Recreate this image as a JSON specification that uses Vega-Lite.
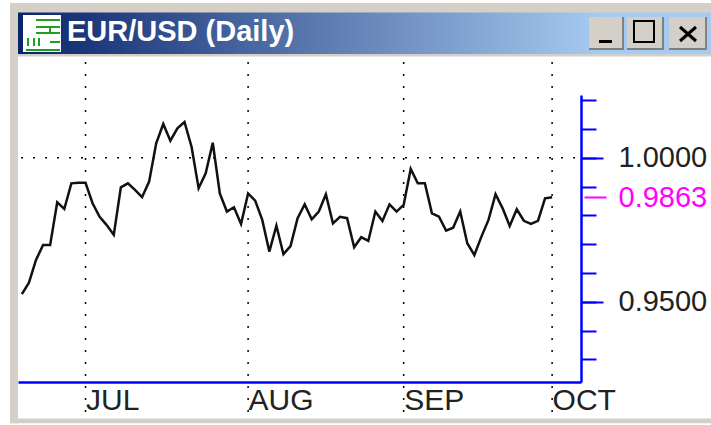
{
"$schema":"https://vega.github.io/schema/vega-lite/v6.json",
"width":563,"height":287,"autosize":"none",
"padding":{"left":18,"top":95,"right":130,"bottom":43},
"background":"#ffffff",
"view":{"stroke":null},
"title":{"text":"EUR/USD (Daily)","anchor":"start","frame":"group","dx":49,"offset":-44,"color":"#ffffff","font":"Liberation Sans","fontWeight":"bold","fontSize":29},
"data":{"values":[{}]},
"resolve":{"axis":{"x":"independent","y":"independent"}},
"layer":[
{"mark":{"type":"rect","color":"#d4d0c8"},"encoding":{"x":{"datum":-10.68,"type":"quantitative","axis":null,"scale":{"domain":[-9.547,70.085],"nice":false,"zero":false}},"x2":{"datum":-9.547},"y":{"datum":1.05372,"type":"quantitative","axis":null,"scale":{"domain":[0.92212,1.02177],"nice":false,"zero":false}},"y2":{"datum":0.90781}}},
{"mark":{"type":"rect","color":"#d4d0c8"},"encoding":{"x":{"datum":-10.68,"type":"quantitative","axis":null},"x2":{"datum":88.47},"y":{"datum":1.05372,"type":"quantitative","axis":null},"y2":{"datum":1.03514}}},
{"mark":{"type":"rect","color":"#d4d0c8"},"encoding":{"x":{"datum":-10.68,"type":"quantitative","axis":null},"x2":{"datum":88.47},"y":{"datum":0.90944,"type":"quantitative","axis":null},"y2":{"datum":0.90781}}},
{"mark":{"type":"rect","color":{"gradient":"linear","x1":0,"y1":0,"x2":1,"y2":0,"stops":[{"offset":0,"color":"#0a246a"},{"offset":0.84,"color":"#a6caf0"},{"offset":1,"color":"#a6caf0"}]}},"encoding":{"x":{"datum":-9.547,"type":"quantitative","axis":null},"x2":{"datum":88.47},"y":{"datum":1.05042,"type":"quantitative","axis":null},"y2":{"datum":1.03601}}},
{"mark":{"type":"rect","color":"#ffffff"},"encoding":{"x":{"datum":-8.84,"type":"quantitative","axis":null},"x2":{"datum":-3.47},"y":{"datum":1.04955,"type":"quantitative","axis":null},"y2":{"datum":1.0367}}},
{"mark":{"type":"rule","color":"#1f9e1f","strokeWidth":2},"encoding":{"x":{"datum":-7.0,"type":"quantitative","axis":null},"x2":{"datum":-3.61},"y":{"datum":1.04781,"type":"quantitative","axis":null}}},
{"mark":{"type":"rule","color":"#1f9e1f","strokeWidth":2},"encoding":{"x":{"datum":-7.0,"type":"quantitative","axis":null},"x2":{"datum":-3.61},"y":{"datum":1.04538,"type":"quantitative","axis":null}}},
{"mark":{"type":"rule","color":"#1f9e1f","strokeWidth":2},"encoding":{"x":{"datum":-7.0,"type":"quantitative","axis":null},"x2":{"datum":-3.61},"y":{"datum":1.0433,"type":"quantitative","axis":null}}},
{"mark":{"type":"rule","color":"#1f9e1f","strokeWidth":2},"encoding":{"x":{"datum":-5.02,"type":"quantitative","axis":null},"x2":{"datum":-3.61},"y":{"datum":1.04017,"type":"quantitative","axis":null}}},
{"mark":{"type":"rule","color":"#1f9e1f","strokeWidth":2},"encoding":{"x":{"datum":-8.42,"type":"quantitative","axis":null},"x2":{"datum":-3.61},"y":{"datum":1.0374,"type":"quantitative","axis":null}}},
{"mark":{"type":"rule","color":"#1f9e1f","strokeWidth":2},"encoding":{"x":{"datum":-5.02,"type":"quantitative","axis":null},"y":{"datum":1.04538,"type":"quantitative","axis":null},"y2":{"datum":1.0433}}},
{"mark":{"type":"rule","color":"#1f9e1f","strokeWidth":2},"encoding":{"x":{"datum":-8.13,"type":"quantitative","axis":null},"y":{"datum":1.04156,"type":"quantitative","axis":null},"y2":{"datum":1.03878}}},
{"mark":{"type":"rule","color":"#1f9e1f","strokeWidth":2},"encoding":{"x":{"datum":-7.28,"type":"quantitative","axis":null},"y":{"datum":1.04156,"type":"quantitative","axis":null},"y2":{"datum":1.03878}}},
{"mark":{"type":"rule","color":"#1f9e1f","strokeWidth":2},"encoding":{"x":{"datum":-6.58,"type":"quantitative","axis":null},"y":{"datum":1.04156,"type":"quantitative","axis":null},"y2":{"datum":1.03878}}},
{"mark":{"type":"rect","color":"#808080"},"encoding":{"x":{"datum":71.22,"type":"quantitative","axis":null},"x2":{"datum":76.17},"y":{"datum":1.04885,"type":"quantitative","axis":null},"y2":{"datum":1.0374}}},
{"mark":{"type":"rect","color":"#808080"},"encoding":{"x":{"datum":76.59,"type":"quantitative","axis":null},"x2":{"datum":81.82},"y":{"datum":1.04885,"type":"quantitative","axis":null},"y2":{"datum":1.0374}}},
{"mark":{"type":"rect","color":"#808080"},"encoding":{"x":{"datum":82.53,"type":"quantitative","axis":null},"x2":{"datum":87.91},"y":{"datum":1.04885,"type":"quantitative","axis":null},"y2":{"datum":1.0374}}},
{"mark":{"type":"rect","color":"#d4d0c8"},"encoding":{"x":{"datum":71.22,"type":"quantitative","axis":null},"x2":{"datum":75.89},"y":{"datum":1.04885,"type":"quantitative","axis":null},"y2":{"datum":1.0381}}},
{"mark":{"type":"rect","color":"#d4d0c8"},"encoding":{"x":{"datum":76.59,"type":"quantitative","axis":null},"x2":{"datum":81.54},"y":{"datum":1.04885,"type":"quantitative","axis":null},"y2":{"datum":1.0381}}},
{"mark":{"type":"rect","color":"#d4d0c8"},"encoding":{"x":{"datum":82.53,"type":"quantitative","axis":null},"x2":{"datum":87.63},"y":{"datum":1.04885,"type":"quantitative","axis":null},"y2":{"datum":1.0381}}},
{"mark":{"type":"rect","color":"#000000"},"encoding":{"x":{"datum":72.63,"type":"quantitative","axis":null},"x2":{"datum":74.47},"y":{"datum":1.04087,"type":"quantitative","axis":null},"y2":{"datum":1.03983}}},
{"mark":{"type":"rect","fillOpacity":0,"stroke":"#000000","strokeWidth":2},"encoding":{"x":{"datum":77.58,"type":"quantitative","axis":null},"x2":{"datum":80.41},"y":{"datum":1.04747,"type":"quantitative","axis":null},"y2":{"datum":1.04017}}},
{"mark":{"type":"rule","color":"#000000","strokeWidth":3},"encoding":{"x":{"datum":84.09,"type":"quantitative","axis":null},"x2":{"datum":86.35},"y":{"datum":1.04538,"type":"quantitative","axis":null},"y2":{"datum":1.04052}}},
{"mark":{"type":"rule","color":"#000000","strokeWidth":3},"encoding":{"x":{"datum":84.09,"type":"quantitative","axis":null},"x2":{"datum":86.35},"y":{"datum":1.04052,"type":"quantitative","axis":null},"y2":{"datum":1.04538}}},
{"mark":{"type":"rule","color":"#000000","strokeWidth":1.5,"strokeDash":[2,10]},"encoding":{"x":{"datum":-9.12,"type":"quantitative","axis":null},"x2":{"datum":70.085},"y":{"datum":1,"type":"quantitative","axis":null}}},
{"data":{"values":[{"day":0,"month":"JUL"},{"day":23,"month":"AUG"},{"day":45,"month":"SEP"},{"day":66,"month":"OCT"}]},
 "mark":{"type":"rule","color":"#000000","strokeWidth":1.5,"strokeDash":[2,10]},
 "encoding":{"x":{"field":"day","type":"quantitative","axis":null},
 "y":{"datum":1.03323,"type":"quantitative","axis":{"orient":"right","zindex":1,"title":null,"values":[0.95,1],"tickSize":22,"tickColor":"#0000ff","tickWidth":2,"domain":false,"grid":false,"labelFont":"Liberation Sans","labelFontSize":29,"labelColor":"#222222","labelPadding":15,"format":".4f"}},"y2":{"datum":0.90962}}},
{"data":{"values":[{"day":66,"rate":0.9863}]},
 "mark":{"type":"point","opacity":0},
 "encoding":{"x":{"field":"day","type":"quantitative","axis":null},
 "y":{"field":"rate","type":"quantitative","axis":{"orient":"right","zindex":1,"offset":3,"title":null,"values":[0.9863],"tickSize":22,"tickColor":"#ff00ff","tickWidth":2,"domain":false,"grid":false,"labelFont":"Liberation Sans","labelFontSize":29,"labelColor":"#ff00ff","labelPadding":12,"format":".4f"}}}},
{"data":{"name":"series","values":[
{"day":-9,"rate":0.9526},{"day":-8,"rate":0.9566},{"day":-7,"rate":0.9645},{"day":-6,"rate":0.9697},{"day":-5,"rate":0.9697},{"day":-4,"rate":0.9845},{"day":-3,"rate":0.9822},{"day":-2,"rate":0.9911},{"day":-1,"rate":0.9913},{"day":0,"rate":0.9913},
{"day":1,"rate":0.9842},{"day":2,"rate":0.9795},{"day":3,"rate":0.9766},{"day":4,"rate":0.9732},{"day":5,"rate":0.9897},{"day":6,"rate":0.9911},{"day":7,"rate":0.9888},{"day":8,"rate":0.9863},{"day":9,"rate":0.9917},{"day":10,"rate":1.005},
{"day":11,"rate":1.0117},{"day":12,"rate":1.0059},{"day":13,"rate":1.0102},{"day":14,"rate":1.0124},{"day":15,"rate":1.0038},{"day":16,"rate":0.9894},{"day":17,"rate":0.9946},{"day":18,"rate":1.0052},{"day":19,"rate":0.9876},{"day":20,"rate":0.9813},
{"day":21,"rate":0.9828},{"day":22,"rate":0.977},{"day":23,"rate":0.9876},{"day":24,"rate":0.9851},{"day":25,"rate":0.9784},{"day":26,"rate":0.9674},{"day":27,"rate":0.9764},{"day":28,"rate":0.9665},{"day":29,"rate":0.9693},{"day":30,"rate":0.979},
{"day":31,"rate":0.9838},{"day":32,"rate":0.9786},{"day":33,"rate":0.9813},{"day":34,"rate":0.9873},{"day":35,"rate":0.9772},{"day":36,"rate":0.9795},{"day":37,"rate":0.979},{"day":38,"rate":0.9689},{"day":39,"rate":0.9724},{"day":40,"rate":0.9711},
{"day":41,"rate":0.9813},{"day":42,"rate":0.978},{"day":43,"rate":0.9838},{"day":44,"rate":0.9813},{"day":45,"rate":0.9836},{"day":46,"rate":0.9961},{"day":47,"rate":0.9911},{"day":48,"rate":0.9911},{"day":49,"rate":0.9807},{"day":50,"rate":0.9795},
{"day":51,"rate":0.9747},{"day":52,"rate":0.9757},{"day":53,"rate":0.9813},{"day":54,"rate":0.9703},{"day":55,"rate":0.9662},{"day":56,"rate":0.9726},{"day":57,"rate":0.9784},{"day":58,"rate":0.9873},{"day":59,"rate":0.9824},{"day":60,"rate":0.9763},
{"day":61,"rate":0.9821},{"day":62,"rate":0.9781},{"day":63,"rate":0.977},{"day":64,"rate":0.9781},{"day":65,"rate":0.9859},{"day":66,"rate":0.9863}]},
 "mark":{"type":"line","color":"#111111","strokeWidth":2.5},
 "encoding":{
 "x":{"field":"day","type":"quantitative","axis":{"orient":"bottom","zindex":1,"title":null,"values":[0,23,45,66],"labelExpr":"datum.value==0?'JUL':datum.value==23?'AUG':datum.value==45?'SEP':'OCT'","tickSize":0,"domain":true,"domainColor":"#0000ff","domainWidth":2.5,"grid":false,"labelFont":"Liberation Sans","labelFontSize":30,"labelColor":"#222222","labelAlign":"left","labelBaseline":"top","labelPadding":3,"labelBound":false,"labelFlush":false,"labelOverlap":false}},
 "y":{"field":"rate","type":"quantitative","axis":{"orient":"right","zindex":1,"title":null,"values":[0.93,0.94,0.95,0.96,0.97,0.98,0.99,1,1.01,1.02],"tickSize":15,"tickColor":"#0000ff","tickWidth":2,"domain":true,"domainColor":"#0000ff","domainWidth":2.5,"grid":false,"labels":false}}}}
]
}
